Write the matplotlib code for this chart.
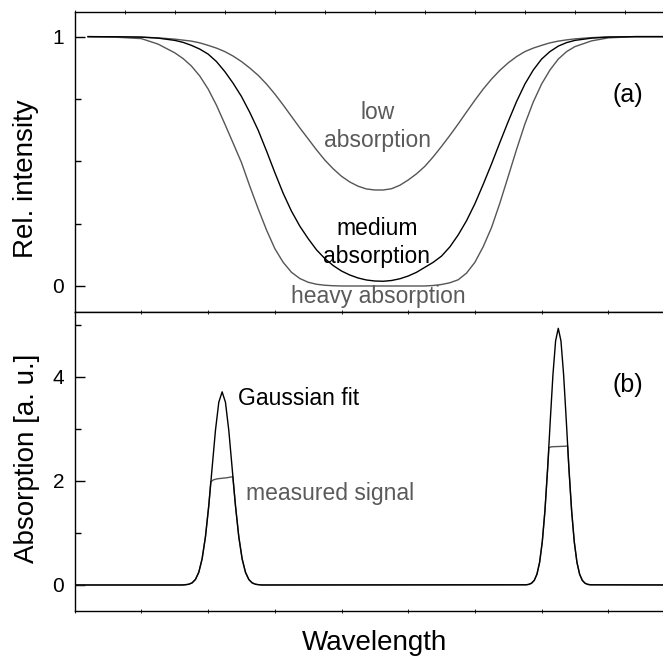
import numpy as np
import matplotlib
matplotlib.use("Agg")
import matplotlib.pyplot as plt
from matplotlib.ticker import MultipleLocator

plt.rcParams['font.family'] = ['Liberation Sans', 'DejaVu Sans']

# Transmission dips (panel a), wavelength in arbitrary units
wl_top = [0.2, 0.6, 1.0, 1.25, 1.5, 1.625, 1.75, 1.875, 2.0, 2.125, 2.25, 2.375, 2.5, 2.625,
          2.75, 2.875, 3.0, 3.125, 3.25, 3.375, 3.5, 3.625, 3.75, 3.875, 4.0, 4.125, 4.25, 4.375,
          4.5, 4.625, 4.75, 4.875, 5.0, 5.125, 5.25, 5.375, 5.5, 5.625, 5.75, 5.875, 6.0, 6.125,
          6.25, 6.375, 6.5, 6.625, 6.75, 6.875, 7.0, 7.125, 7.25, 7.375, 7.5, 7.75, 8.0, 8.4, 8.82]
low_abs = [1.0, 0.9995, 0.998, 0.995, 0.99, 0.986, 0.982, 0.975, 0.965, 0.954, 0.94, 0.922, 0.90, 0.874,
           0.845, 0.81, 0.77, 0.726, 0.68, 0.634, 0.59, 0.546, 0.505, 0.47, 0.44, 0.417, 0.40, 0.389,
           0.385, 0.385, 0.39, 0.404, 0.425, 0.45, 0.48, 0.518, 0.56, 0.604, 0.65, 0.698, 0.745, 0.79,
           0.83, 0.865, 0.895, 0.92, 0.94, 0.954, 0.965, 0.975, 0.982, 0.987, 0.991, 0.996, 0.999, 1.0, 1.0]
medium_abs = [1.0, 0.9995, 0.998, 0.994, 0.985, 0.977, 0.965, 0.95, 0.93, 0.90, 0.86, 0.813, 0.76, 0.696,
              0.625, 0.542, 0.455, 0.372, 0.30, 0.24, 0.19, 0.145, 0.11, 0.082, 0.06, 0.044, 0.032, 0.024,
              0.02, 0.019, 0.022, 0.029, 0.04, 0.055, 0.075, 0.095, 0.12, 0.157, 0.205, 0.262, 0.33, 0.408,
              0.49, 0.576, 0.66, 0.74, 0.81, 0.866, 0.91, 0.94, 0.962, 0.976, 0.985, 0.994, 0.998, 1.0, 1.0]
heavy_abs = [1.0, 0.998, 0.992, 0.97, 0.935, 0.912, 0.882, 0.842, 0.79, 0.725, 0.65, 0.573, 0.495, 0.40,
             0.31, 0.225, 0.15, 0.095, 0.055, 0.03, 0.015, 0.007, 0.003, 0.001, 0.0, 0.0, 0.0, 0.0,
             0.0, 0.0, 0.0, 0.0, 0.0, 0.0, 0.0, 0.002, 0.006, 0.013, 0.025, 0.052, 0.095, 0.158,
             0.235, 0.333, 0.44, 0.548, 0.65, 0.738, 0.81, 0.866, 0.91, 0.94, 0.96, 0.983, 0.995, 1.0, 1.0]

# Absorption peaks (panel b)
wl_range = [0.0, 9.0]
fit_wl_1 = [1.61, 1.66, 1.71, 1.76, 1.81, 1.86, 1.91, 1.96, 2.01, 2.06, 2.11, 2.16, 2.21,
            2.26, 2.31, 2.36, 2.41, 2.46, 2.51, 2.56, 2.61, 2.66, 2.71, 2.76, 2.81]
fit_abs_1 = [0.0, 0.005, 0.014, 0.041, 0.106, 0.244, 0.502, 0.925, 1.525, 2.25, 2.97, 3.51, 3.71,
             3.51, 2.97, 2.25, 1.525, 0.925, 0.502, 0.244, 0.106, 0.041, 0.014, 0.005, 0.0]
fit_wl_2 = [6.77, 6.81, 6.85, 6.89, 6.93, 6.97, 7.01, 7.05, 7.09, 7.13, 7.17, 7.21, 7.25,
            7.29, 7.33, 7.37, 7.41, 7.45, 7.49, 7.53, 7.57, 7.61, 7.65, 7.69, 7.73]
fit_abs_2 = [0.004, 0.012, 0.035, 0.089, 0.206, 0.434, 0.827, 1.427, 2.23, 3.16, 4.04, 4.69, 4.93,
             4.69, 4.04, 3.16, 2.23, 1.427, 0.827, 0.434, 0.206, 0.089, 0.035, 0.012, 0.004]

meas_wl_1 = [1.61, 1.66, 1.71, 1.76, 1.81, 1.86, 1.91, 1.96, 2.01, 2.04, 2.08, 2.14, 2.21, 2.28,
             2.37, 2.41, 2.46, 2.51, 2.56, 2.61, 2.66, 2.71, 2.76, 2.81]
meas_abs_1 = [0.0, 0.005, 0.014, 0.041, 0.106, 0.244, 0.502, 0.925, 1.525, 1.98, 2.02, 2.04, 2.05, 2.06,
              2.08, 1.525, 0.925, 0.502, 0.244, 0.106, 0.041, 0.014, 0.005, 0.0]
meas_wl_2 = [6.77, 6.81, 6.85, 6.89, 6.93, 6.97, 7.01, 7.05, 7.09, 7.11, 7.15, 7.25, 7.35, 7.39,
             7.41, 7.45, 7.49, 7.53, 7.57, 7.61, 7.65, 7.69, 7.73]
meas_abs_2 = [0.004, 0.012, 0.035, 0.089, 0.206, 0.434, 0.827, 1.427, 2.23, 2.64, 2.655, 2.66, 2.665, 2.67,
              2.23, 1.427, 0.827, 0.434, 0.206, 0.089, 0.035, 0.012, 0.004]

gray = '#555555'
text_gray = '#5a5a5a'

fig = plt.figure(figsize=(6.63, 6.57), dpi=100)
ax1 = fig.add_axes([0.1127, 0.5256, 0.9054, 0.4566])
ax2 = fig.add_axes([0.1127, 0.0700, 0.9054, 0.4556])

# panel (a)
ax1.plot(wl_top, low_abs, color=gray, lw=1.0)
ax1.plot(wl_top, heavy_abs, color=gray, lw=1.0)
ax1.plot(wl_top, medium_abs, color='black', lw=1.0)
ax1.set_xlim(0, 9)
ax1.set_ylim(-0.103, 1.1)
ax1.set_yticks([0, 1])
ax1.yaxis.set_minor_locator(MultipleLocator(0.25))
ax1.xaxis.set_major_locator(MultipleLocator(0.75))
ax1.tick_params(axis='x', which='both', bottom=False, top=True, labelbottom=False,
                direction='inout', length=3, width=0.6)
ax1.tick_params(axis='y', which='major', direction='in', length=7, width=1.0,
                labelsize=15, pad=8)
ax1.tick_params(axis='y', which='minor', direction='in', length=4, width=1.0)

ax1.text(4.54, 0.671, 'low', color=text_gray, fontsize=16.5, ha='center', va='baseline')
ax1.text(4.54, 0.558, 'absorption', color=text_gray, fontsize=16.5, ha='center', va='baseline')
ax1.text(4.53, 0.205, 'medium', color='black', fontsize=16.5, ha='center', va='baseline')
ax1.text(4.53, 0.091, 'absorption', color='black', fontsize=16.5, ha='center', va='baseline')
ax1.text(4.555, -0.069, 'heavy absorption', color=text_gray, fontsize=16.5,
         ha='center', va='baseline')
ax1.text(8.30, 0.766, '(a)', fontsize=18, ha='center', va='center')

# panel (b)
ax2.plot(wl_range[:1] + meas_wl_1 + meas_wl_2 + wl_range[1:],
         [0.0] + meas_abs_1 + meas_abs_2 + [0.0], color=gray, lw=1.0)
ax2.plot(wl_range[:1] + fit_wl_1 + fit_wl_2 + wl_range[1:],
         [0.0] + fit_abs_1 + fit_abs_2 + [0.0], color='black', lw=1.0)
ax2.set_xlim(0, 9)
ax2.set_ylim(-0.5, 5.25)
ax2.set_yticks([0, 2, 4])
ax2.yaxis.set_minor_locator(MultipleLocator(1))
ax2.xaxis.set_major_locator(MultipleLocator(1))
ax2.tick_params(axis='x', which='both', bottom=True, top=True, labelbottom=False,
                direction='inout', length=3, width=0.6)
ax2.tick_params(axis='y', which='major', direction='in', length=7, width=1.0,
                labelsize=15, pad=7.5)
ax2.tick_params(axis='y', which='minor', direction='in', length=4, width=1.0)

ax2.text(2.45, 3.46, 'Gaussian fit', color='black', fontsize=16.5, ha='left', va='baseline')
ax2.text(2.57, 1.63, 'measured signal', color=text_gray, fontsize=16.5, ha='left', va='baseline')
ax2.text(8.30, 3.84, '(b)', fontsize=18, ha='center', va='center')

for ax in (ax1, ax2):
    for sp in ax.spines.values():
        sp.set_linewidth(1.0)

fig.text(26 / 663, 1 - 179 / 657, 'Rel. intensity', rotation=90, fontsize=20,
         ha='center', va='center')
fig.text(27 / 663, 1 - 458 / 657, 'Absorption [a. u.]', rotation=90, fontsize=20,
         ha='center', va='center')
fig.text(374 / 663, 1 - 650 / 657, 'Wavelength', fontsize=20, ha='center', va='baseline')

fig.savefig('out.png', dpi=100)
